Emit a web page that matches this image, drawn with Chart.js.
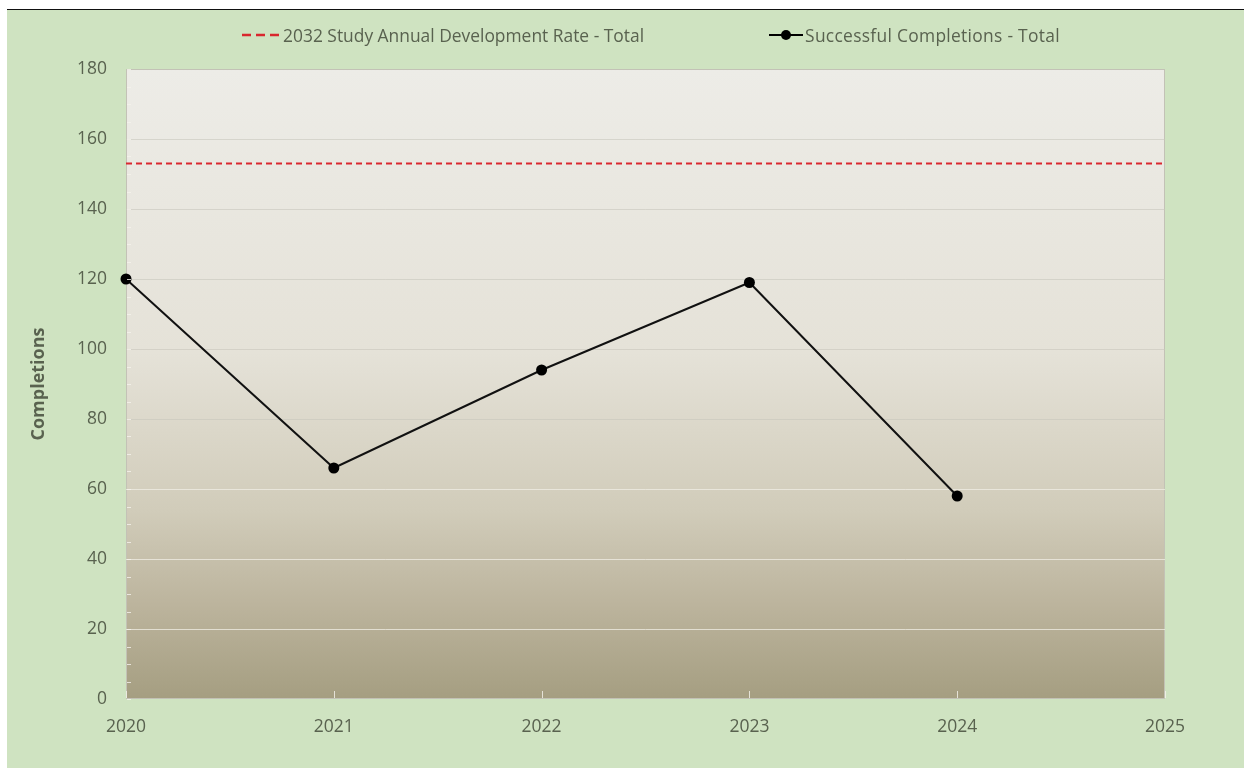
<!DOCTYPE html>
<html>
<head>
<meta charset="utf-8">
<script src="https://cdn.jsdelivr.net/npm/chart.js@4/dist/chart.umd.min.js"></script>
<style>
  html, body { margin: 0; padding: 0; background: #fff; }
  #frame {
    position: absolute; left: 7px; top: 9px; width: 1237px; height: 759px;
    background: #cfe3c1; border-top: 1px solid #111;
    font-family: "Open Sans", sans-serif; color: #59624f;
  }
  #legend {
    position: absolute; left: 50px; right: 0; top: 13px;
    display: flex; justify-content: center; gap: 125px;
    font-size: 17.4px; line-height: 24px;
  }
  #legend .item { display: flex; align-items: center; }
  #legend svg { margin-right: 2px; }
  #wrap { position: absolute; left: 0; top: 0; width: 1237px; height: 759px; }
</style>
</head>
<body>
<div id="frame">
  <div id="wrap"><canvas id="myChart"></canvas></div>
  <div id="legend">
    <div class="item">
      <svg width="40" height="6"><line x1="1" y1="3" x2="40" y2="3" stroke="#d9272e" stroke-width="2.5" stroke-dasharray="9,5"/></svg>
      <span>2032 Study Annual Development Rate - Total</span>
    </div>
    <div class="item">
      <svg width="34" height="12"><line x1="0" y1="6" x2="34" y2="6" stroke="#000" stroke-width="2"/><circle cx="17" cy="6" r="5" fill="#000"/></svg>
      <span style="letter-spacing:0.3px">Successful Completions - Total</span>
    </div>
  </div>
</div>
<script>
const years = [2020, 2021, 2022, 2023, 2024, 2025];
const completions = [120, 66, 94, 119, 58];
const studyRate = [153, 153, 153, 153, 153, 153];
const yTicks = [0, 20, 40, 60, 80, 100, 120, 140, 160, 180];

const textColor = '#59624f';

// plot area shading, light at the top and olive towards the bottom
const plotBackground = {
  id: 'plotBackground',
  beforeDraw(chart) {
    const {ctx, chartArea: a} = chart;
    const g = ctx.createLinearGradient(0, a.top, 0, a.bottom);
    g.addColorStop(0, '#edece7');
    g.addColorStop(0.45, '#e5e2d8');
    g.addColorStop(0.7, '#d1ccba');
    g.addColorStop(0.85, '#bcb49d');
    g.addColorStop(1, '#a59e81');
    ctx.save();
    ctx.fillStyle = g;
    ctx.fillRect(a.left, a.top, a.right - a.left, a.bottom - a.top);
    ctx.strokeStyle = '#c3c2b6';
    ctx.lineWidth = 1;
    ctx.strokeRect(a.left + 0.5, a.top + 0.5, a.right - a.left - 1, a.bottom - a.top - 1);
    ctx.restore();
  },
  // small inside tick marks on both axes
  afterDatasetsDraw(chart) {
    const {ctx, chartArea: a, scales} = chart;
    ctx.save();
    ctx.strokeStyle = 'rgba(245,243,236,0.8)';
    ctx.lineWidth = 1;
    for (let v = 0; v <= 180; v += 5) {
      const y = Math.round(scales.y.getPixelForValue(v)) + 0.5;
      ctx.beginPath();
      ctx.moveTo(a.left + 1, y);
      ctx.lineTo(a.left + 5, y);
      ctx.stroke();
    }
    years.forEach(yr => {
      const x = Math.round(scales.x.getPixelForValue(yr)) + 0.5;
      ctx.beginPath();
      ctx.moveTo(x, a.bottom - 1);
      ctx.lineTo(x, a.bottom - 8);
      ctx.stroke();
    });
    ctx.restore();
  }
};

const data = {
  datasets: [{
    label: '2032 Study Annual Development Rate - Total',
    data: years.map((yr, i) => ({x: yr, y: studyRate[i]})),
    borderColor: '#d9272e',
    borderWidth: 2,
    borderDash: [6, 4],
    pointRadius: 0,
    order: 2
  }, {
    label: 'Successful Completions - Total',
    data: completions.map((c, i) => ({x: years[i], y: c})),
    borderColor: '#111',
    backgroundColor: '#000',
    borderWidth: 2,
    pointRadius: 5.5,
    pointBackgroundColor: '#000',
    pointBorderWidth: 0,
    clip: false,
    order: 1
  }]
};

const config = {
  type: 'line',
  data: data,
  plugins: [plotBackground],
  options: {
    responsive: true,
    maintainAspectRatio: false,
    animation: false,
    layout: { padding: { left: 0, right: 79, top: 59, bottom: 0 } },
    plugins: { legend: { display: false }, tooltip: { enabled: false } },
    scales: {
      x: {
        type: 'linear',
        min: 2020, max: 2025,
        afterFit(scale) { scale.height = 70; },
        afterBuildTicks(scale) { scale.ticks = years.map(v => ({value: v})); },
        grid: { display: false, drawTicks: false },
        border: { display: false },
        ticks: {
          padding: 18,
          color: textColor,
          font: { family: 'Open Sans', size: 17.5 },
          callback: v => String(v)
        }
      },
      y: {
        min: 0, max: 180,
        afterFit(scale) { scale.width = 119; },
        afterBuildTicks(scale) { scale.ticks = yTicks.map(v => ({value: v})); },
        grid: {
          drawTicks: false,
          color: ctx => (ctx.tick && ctx.tick.value >= 80) ? 'rgba(200,198,188,0.6)' : 'rgba(240,238,228,0.75)',
          lineWidth: ctx => (ctx.tick && (ctx.tick.value === 0 || ctx.tick.value === 180)) ? 0 : 1
        },
        border: { display: false },
        ticks: {
          padding: 19,
          color: textColor,
          font: { family: 'Open Sans', size: 17.5 }
        },
        title: {
          display: true,
          text: 'Completions',
          color: textColor,
          font: { family: 'Open Sans', size: 18, weight: 'bold' },
          padding: { top: 21 }
        }
      }
    }
  }
};

const myChart = new Chart(
  document.getElementById('myChart'),
  config
);
</script>
</body>
</html>
